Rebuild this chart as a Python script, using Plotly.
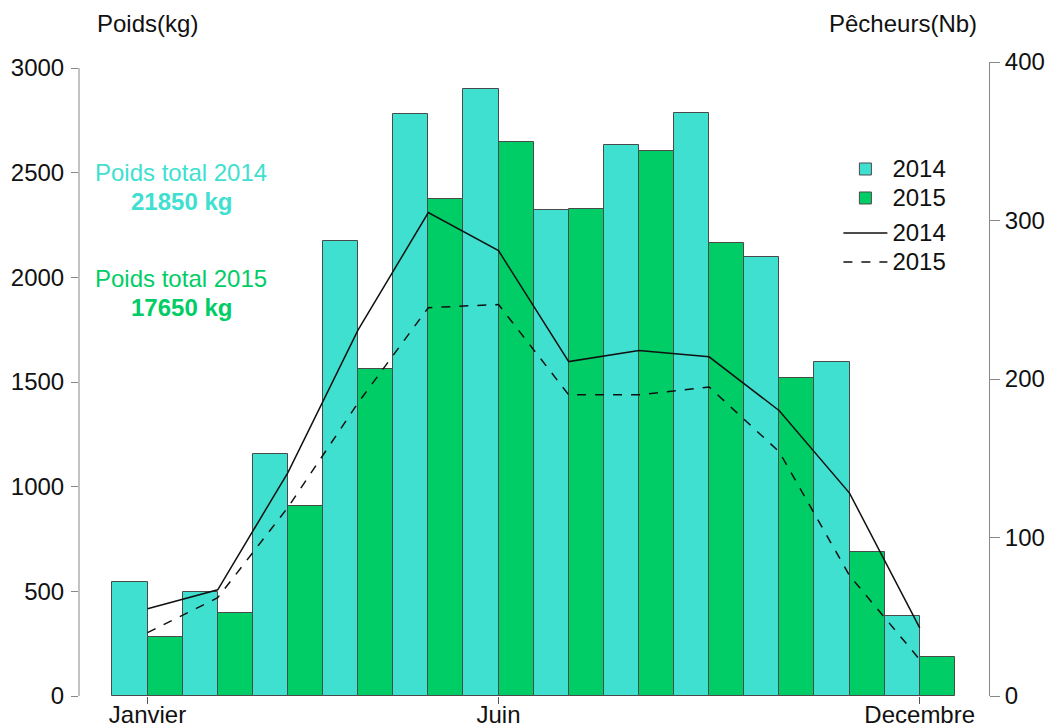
import plotly.graph_objects as go

months = list(range(1, 13))
tick_vals = [1, 6, 12]
tick_text = ["Janvier", "Juin", "Decembre"]

poids_2014 = [545, 495, 1155, 2175, 2780, 2900, 2320, 2630, 2785, 2095, 1595, 380]
poids_2015 = [280, 395, 910, 1560, 2375, 2645, 2325, 2605, 2165, 1520, 690, 185]
pecheurs_2014 = [55, 67, 141, 231, 305, 281, 211, 218, 214, 180, 128, 43]
pecheurs_2015 = [40, 62, 119, 185, 245, 247, 190, 190, 195, 154, 76, 23]

C14 = "#40E0D0"
C15 = "#00CD66"
FONT = "Liberation Sans, Arial, sans-serif"
FS = 24
Y_MAX = 3000
Y2_MAX = 400
# plot area: top at 62 px (=400 on right axis), 3000 on left axis at 68 px, 0 at 696 px
Y_TOP = Y_MAX * 634 / 628


def leg(t):
    return "<span style='font-size:24px'>%s</span>" % t


fig = go.Figure()
fig.add_trace(go.Bar(x=months, y=poids_2014, width=0.5, offset=-0.5, name=leg("2014"),
                     legendgroup="bars",
                     marker=dict(color=C14, line=dict(color="#4a4a4a", width=1))))
fig.add_trace(go.Bar(x=months, y=poids_2015, width=0.5, offset=0, name=leg("2015"),
                     legendgroup="bars",
                     marker=dict(color=C15, line=dict(color="#4a4a4a", width=1))))
fig.add_trace(go.Scatter(x=months, y=pecheurs_2014, mode="lines", name=leg("2014"), yaxis="y2",
                         legendgroup="lines",
                         line=dict(color="#111111", width=1.5)))
fig.add_trace(go.Scatter(x=months, y=pecheurs_2015, mode="lines", name=leg("2015"), yaxis="y2",
                         legendgroup="lines",
                         line=dict(color="#111111", width=1.5, dash="dash")))

AFS = 24
fig.add_annotation(x=1.48, y=2500, xref="x", yref="y", text="Poids total 2014",
                   showarrow=False, font=dict(family=FONT, size=AFS, color=C14))
fig.add_annotation(x=1.48, y=2360, xref="x", yref="y", text="<b>21850 kg</b>",
                   showarrow=False, font=dict(family=FONT, size=AFS, color=C14))
fig.add_annotation(x=1.48, y=1995, xref="x", yref="y", text="Poids total 2015",
                   showarrow=False, font=dict(family=FONT, size=AFS, color=C15))
fig.add_annotation(x=1.48, y=1855, xref="x", yref="y", text="<b>17650 kg</b>",
                   showarrow=False, font=dict(family=FONT, size=AFS, color=C15))

fig.add_annotation(xref="paper", yref="paper", x=(147 - 79) / 910, y=1 + (62 - 24) / 634,
                   xanchor="center", yanchor="middle",
                   text="Poids(kg)", showarrow=False,
                   font=dict(family=FONT, size=AFS, color="#111"))
fig.add_annotation(xref="paper", yref="paper", x=(903 - 79) / 910, y=1 + (62 - 24) / 634,
                   xanchor="center", yanchor="middle",
                   text="Pêcheurs(Nb)", showarrow=False,
                   font=dict(family=FONT, size=AFS, color="#111"))

# left axis line spanning 0..3000 only (as in the reference)
fig.add_shape(type="line", xref="paper", yref="y", x0=0, x1=0, y0=0, y1=Y_MAX,
              line=dict(color="#888", width=1))

fig.update_layout(
    width=1046, height=727,
    margin=dict(l=79, r=57, t=62, b=31, autoexpand=False),
    paper_bgcolor="white", plot_bgcolor="white",
    barmode="overlay", bargap=0,
    font=dict(family=FONT, size=FS, color="#111"),
    showlegend=True,
    legend=dict(x=0.8345, y=0.862, xanchor="left", yanchor="top",
                bgcolor="rgba(0,0,0,0)", font=dict(size=20),
                traceorder="grouped", tracegroupgap=6, itemwidth=44),
    xaxis=dict(range=[0.024, 12.987], tickvals=tick_vals, ticktext=tick_text,
               showline=False, showgrid=False, zeroline=False, automargin=False,
               ticks="outside", ticklen=7, tickcolor="#555",
               ticklabelstandoff=-10, tickfont=dict(size=24)),
    yaxis=dict(range=[0, Y_TOP], tickvals=[0, 500, 1000, 1500, 2000, 2500, 3000],
               showline=False, showgrid=False, zeroline=False, automargin=False,
               ticks="outside", ticklen=7, tickcolor="#888",
               ticklabelstandoff=2, tickfont=dict(size=FS)),
    yaxis2=dict(range=[0, Y2_MAX], dtick=100, overlaying="y", side="right",
                showline=True, linecolor="#888", linewidth=1, showgrid=False,
                zeroline=False, automargin=False, ticks="outside", ticklen=10,
                tickcolor="#888", ticklabelstandoff=0, tickfont=dict(size=FS)),
)

fig.write_html("out.html", config={"displayModeBar": False},
               post_script="document.body.style.margin='0';document.body.style.overflow='hidden';")
